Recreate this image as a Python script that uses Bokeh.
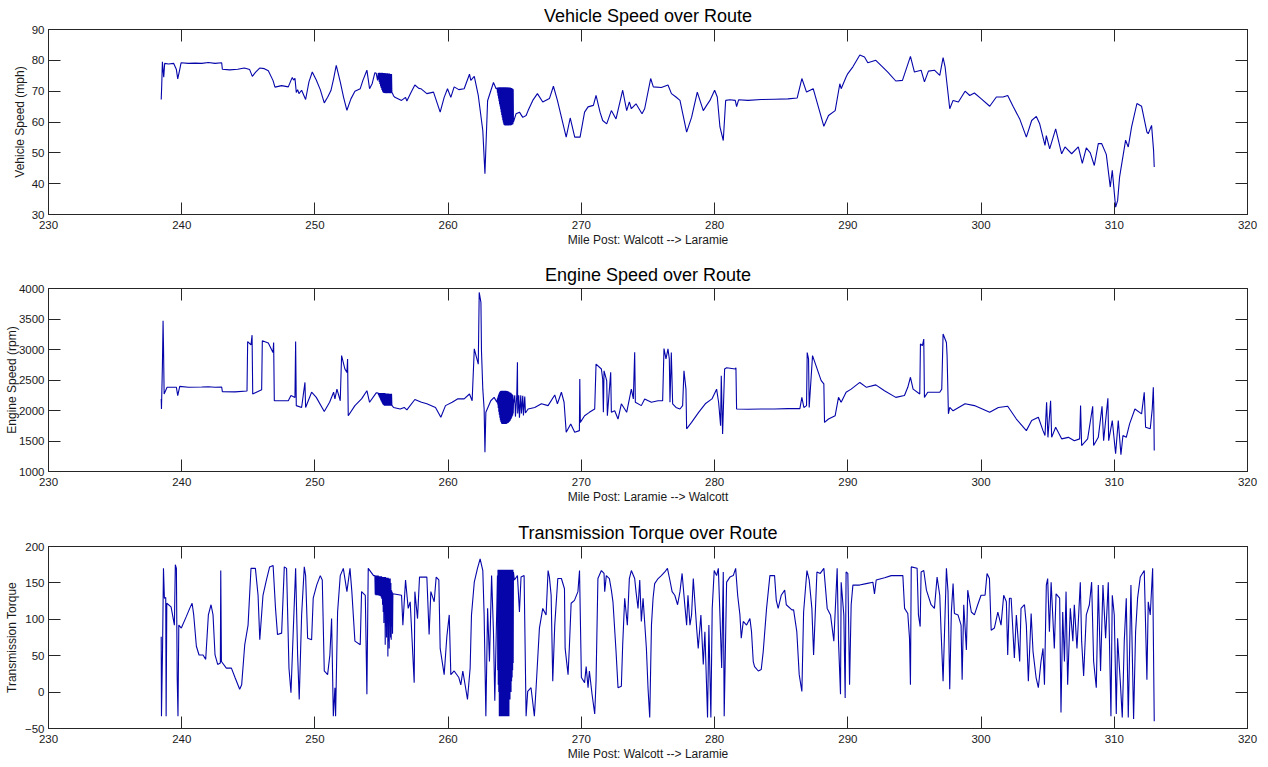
from bokeh.plotting import figure
from bokeh.models import Range1d, FixedTicker, LinearAxis
from bokeh.layouts import column
from bokeh.embed import file_html
from bokeh.resources import INLINE

# ---------------- data ----------------
x_ticks = [230, 240, 250, 260, 270, 280, 290, 300, 310, 320]

# ---- Vehicle speed (mph) ----
vs_a_mile = [238.46, 238.5, 238.55, 238.65, 238.72, 239.0, 239.4, 239.6, 239.7, 239.85, 239.95,
             240.5, 241.0, 241.5, 242.0, 242.5, 243.0, 243.05, 243.6, 244.2, 244.7, 245.1, 245.3,
             245.55, 245.85, 246.2, 246.5, 246.85, 247.0, 247.5, 248.0, 248.2, 248.3, 248.4, 248.5,
             248.6, 248.7, 248.8, 249.0, 249.3, 249.55, 249.8, 250.1, 250.4, 250.7, 250.95, 251.2,
             251.4, 251.6, 251.9, 252.15, 252.4, 252.7, 253.0, 253.4, 253.6, 253.9, 254.1, 254.3,
             254.5, 254.6, 254.7]
vs_a_mph = [67.3, 72.0, 79.5, 74.5, 79.0, 78.8, 79.0, 77.0, 74.0, 77.0, 79.2,
            79.0, 79.1, 79.0, 79.3, 79.0, 79.2, 77.1, 76.9, 77.1, 77.5, 77.0, 74.8,
            76.2, 77.5, 77.3, 76.6, 73.5, 71.3, 71.8, 71.4, 73.5, 74.4, 73.6, 74.2,
            69.6, 70.5, 69.2, 70.3, 67.3, 73.0, 76.2, 73.6, 70.5, 66.2, 68.0, 70.2,
            74.0, 78.4, 73.0, 68.0, 63.8, 67.5, 70.0, 70.8, 73.5, 76.8, 70.8, 72.5,
            76.0, 75.8, 73.5]
vs_blk1_mile = [254.75, 254.775, 254.8, 254.825, 254.85, 254.875, 254.9, 254.925, 254.95, 254.975,
                255.0, 255.025, 255.05, 255.075, 255.1, 255.125, 255.15, 255.175, 255.2, 255.225,
                255.25, 255.275, 255.3, 255.325, 255.35, 255.375, 255.4, 255.425, 255.45, 255.475,
                255.5, 255.525, 255.55, 255.575, 255.6, 255.625, 255.65, 255.675, 255.7, 255.725,
                255.75, 255.775, 255.8]
vs_blk1_mph = [75.9, 73.8, 76.0, 73.0, 76.0, 72.3, 75.9, 71.6, 76.0, 71.0,
               75.9, 70.4, 76.0, 69.9, 75.9, 69.6, 75.9, 69.4, 75.8, 69.4,
               75.9, 69.3, 75.8, 69.4, 75.8, 69.3, 75.7, 69.4, 75.8, 69.3,
               75.7, 69.4, 75.7, 69.3, 75.7, 69.4, 75.6, 69.3, 75.6, 69.4,
               75.6, 69.3, 69.5]
vs_b_mile = [255.9, 256.0, 256.5, 256.8, 256.9, 257.2, 257.5, 257.8, 257.95, 258.4, 258.9, 259.4,
             259.7, 259.95, 260.2, 260.45, 260.8, 261.2, 261.6, 261.7, 261.96, 262.26, 262.6,
             262.76, 262.96, 263.4, 263.6]
vs_b_mph = [68.5, 68.0, 67.0, 68.0, 66.8, 69.5, 72.0, 70.9, 70.8, 69.2, 69.7, 63.2,
            68.0, 70.8, 68.0, 71.4, 70.5, 70.8, 75.5, 73.5, 74.8, 68.6, 57.2,
            43.2, 66.9, 72.8, 70.8]
vs_blk2_mile = [263.68, 263.70, 263.72, 263.74, 263.76, 263.78, 263.80, 263.82, 263.84, 263.86,
                263.88, 263.90, 263.92, 263.94, 263.96, 263.98, 264.00, 264.02, 264.04, 264.06,
                264.08, 264.10, 264.12, 264.14, 264.16, 264.18, 264.20, 264.22, 264.24, 264.26,
                264.28, 264.30, 264.32, 264.34, 264.36, 264.38, 264.40, 264.42, 264.44, 264.46,
                264.48, 264.50, 264.52, 264.54, 264.56, 264.58, 264.60, 264.62, 264.64, 264.66,
                264.68, 264.70, 264.72, 264.74, 264.76, 264.78, 264.80, 264.82, 264.84, 264.86,
                264.88, 264.90]
vs_blk2_mph = [71.0, 69.5, 71.2, 68.5, 71.2, 67.6, 71.3, 66.7, 71.3, 65.8,
               71.3, 65.0, 71.3, 64.1, 71.2, 63.2, 71.3, 62.3, 71.3, 61.5,
               71.2, 60.6, 71.3, 59.8, 71.2, 59.2, 71.3, 59.0, 71.2, 58.9,
               71.3, 59.0, 71.2, 58.9, 71.3, 59.0, 71.2, 58.9, 71.2, 59.0,
               71.3, 58.9, 71.2, 59.0, 71.2, 58.9, 71.1, 59.0, 71.2, 59.0,
               71.1, 58.9, 71.0, 59.0, 71.0, 59.1, 70.9, 59.2, 70.8, 59.3,
               70.6, 60.0]
vs_c_mile = [265.1, 265.35, 265.6, 265.85, 266.0, 266.35, 266.7, 267.1, 267.6, 267.9, 268.2,
             268.86, 269.16, 269.5, 269.9, 270.24, 270.5, 270.9, 271.1, 271.4, 271.6, 271.9,
             272.25, 272.6, 273.1, 273.4, 273.6, 273.75, 274.1, 274.55, 274.75, 275.2, 275.4,
             276.0, 276.5, 276.76, 277.1, 277.4, 277.9, 278.27, 278.7, 279.15, 279.4, 279.65,
             280.0, 280.2, 280.4, 280.65, 280.83, 281.15, 281.55, 281.65, 281.8, 282.5, 283.5,
             284.5, 285.5, 286.2, 286.55, 286.9, 287.4, 288.2, 288.55, 289.05, 289.4, 289.5,
             289.87, 290.0, 290.38, 290.9, 291.25, 291.5, 292.1, 292.6, 293.0, 293.6, 294.1,
             294.7, 295.0, 295.5, 295.75, 296.05, 296.5, 296.9, 297.15, 297.3, 297.65, 297.9,
             298.3, 298.8, 299.15, 299.5, 300.0, 300.65, 301.15, 301.65, 302.0, 302.4, 302.9,
             303.4, 303.8, 304.15, 304.4, 304.8, 304.9, 305.15, 305.6, 306.05, 306.3, 306.8,
             307.3, 307.6, 307.9, 308.2, 308.5, 308.8, 309.05, 309.4, 309.7, 309.85, 310.1,
             310.25, 310.4, 310.85, 311.05, 311.3, 311.7, 312.05, 312.45, 312.55, 312.8, 312.95,
             313.0]
vs_c_mph = [62.7, 63.2, 61.5, 62.1, 63.7, 67.0, 69.2, 66.5, 67.6, 71.6, 67.0,
            55.1, 61.3, 55.1, 55.1, 63.2, 64.9, 65.4, 68.6, 63.2, 60.5, 59.4,
            63.7, 61.0, 70.3, 63.7, 66.5, 64.3, 65.9, 62.7, 64.3, 74.1, 71.4,
            71.2, 72.0, 69.2, 68.1, 67.0, 56.7, 61.5, 69.7, 63.7, 65.4, 67.0,
            70.3, 68.1, 58.4, 54.0, 67.0, 67.2, 67.0, 65.0, 67.2, 67.0, 67.3,
            67.4, 67.5, 67.8, 74.1, 69.7, 70.8, 58.6, 62.1, 63.7, 72.4, 70.8,
            74.6, 75.7, 77.9, 81.7, 81.1, 79.2, 80.0, 77.9, 76.2, 73.3, 73.5,
            81.3, 76.2, 76.8, 73.0, 76.5, 76.8, 75.1, 80.9, 77.9, 64.3, 67.0,
            66.5, 70.0, 68.6, 69.4, 67.6, 65.1, 68.1, 68.1, 68.6, 65.1, 61.0,
            55.1, 60.5, 61.8, 59.4, 52.4, 55.6, 51.3, 57.8, 49.7, 51.9, 49.7,
            51.9, 46.6, 51.6, 50.0, 45.9, 53.0, 53.0, 49.5, 38.9, 44.3, 32.4,
            34.5, 42.2, 54.1, 51.9, 58.4, 66.0, 65.1, 56.7, 56.2, 58.9, 50.8,
            45.4]

# ---- Engine speed (rpm) ----
es_a_mile = [238.46, 238.48, 238.55, 238.6, 238.63, 238.68, 238.9, 239.6, 239.7, 239.85, 240.5,
             241.5, 242.0, 242.5, 243.0, 243.05, 244.0, 244.9, 244.95, 245.2, 245.28, 245.33,
             246.0, 246.05, 246.5, 246.85, 246.9, 246.95, 247.5, 248.0, 248.2, 248.5, 248.55,
             248.6, 249.0, 249.25, 249.3, 249.75, 250.1, 250.7, 251.1, 251.4, 251.5, 251.65,
             251.9, 252.0, 252.25, 252.4, 252.45, 252.5, 253.0, 253.5, 253.9, 254.1, 254.6]
es_a_rpm = [2190, 2025, 2735, 3470, 3090, 2270, 2380, 2380, 2245, 2395, 2380,
            2385, 2390, 2380, 2385, 2310, 2305, 2320, 3130, 3075, 3235, 2270,
            2340, 3145, 3105, 2950, 3115, 2160, 2160, 2160, 2245, 2215, 3130,
            2080, 2050, 2460, 2050, 2300, 2215, 1985, 2135, 2300, 2190, 2350,
            2160, 2900, 2680, 2625, 2845, 1915, 2080, 2190, 2325, 2135, 2290]
es_blk1_mile = vs_blk1_mile
es_blk1_rpm = [2285, 2250, 2285, 2225, 2285, 2200, 2285, 2175, 2285, 2150,
               2285, 2130, 2285, 2110, 2285, 2095, 2285, 2085, 2285, 2080,
               2285, 2080, 2280, 2080, 2280, 2080, 2280, 2080, 2280, 2080,
               2280, 2080, 2275, 2080, 2275, 2080, 2275, 2080, 2275, 2080,
               2275, 2080, 2080]
es_b_mile = [255.9, 256.4, 256.7, 256.9, 257.5, 258.0, 258.4, 259.05, 259.45, 259.8, 260.3,
             260.7, 261.2, 261.6, 261.8, 261.96, 262.26, 262.33, 262.46, 262.5, 262.6, 262.7,
             262.76, 262.83, 263.2, 263.45, 263.66]
es_b_rpm = [2050, 2025, 2050, 2010, 2180, 2135, 2110, 2050, 1890, 2080, 2135,
            2190, 2190, 2270, 2160, 3010, 2760, 3935, 3770, 2980, 2350, 2025,
            1315, 1970, 2160, 2215, 2135]
es_blk2_mile = [263.70, 263.72, 263.74, 263.76, 263.78, 263.80, 263.82, 263.84, 263.86, 263.88,
                263.90, 263.92, 263.94, 263.96, 263.98, 264.00, 264.02, 264.04, 264.06, 264.08,
                264.10, 264.12, 264.14, 264.16, 264.18, 264.20, 264.22, 264.24, 264.26, 264.28,
                264.30, 264.32, 264.34, 264.36, 264.38, 264.40, 264.42, 264.44, 264.46, 264.48,
                264.50, 264.52, 264.54, 264.56, 264.58, 264.60, 264.62, 264.64, 264.66, 264.68,
                264.70, 264.72, 264.74, 264.76, 264.78, 264.80, 264.82, 264.84, 264.86, 264.88,
                264.90]
es_blk2_rpm = [2200, 2100, 2230, 2040, 2260, 1980, 2280, 1930, 2300, 1880,
               2310, 1840, 2320, 1810, 2325, 1790, 2325, 1780, 2320, 1780,
               2325, 1780, 2320, 1780, 2325, 1780, 2320, 1785, 2325, 1780,
               2320, 1785, 2325, 1780, 2320, 1785, 2320, 1790, 2315, 1795,
               2310, 1800, 2310, 1810, 2300, 1820, 2300, 1830, 2290, 1850,
               2290, 1860, 2280, 1880, 2270, 1900, 2260, 1920, 2250, 1950,
               2100]
es_c_mile = [265.0, 265.05, 265.15, 265.2, 265.22, 265.3, 265.35, 265.45, 265.5, 265.6, 265.65,
             265.75, 265.8, 266.0, 266.5, 267.0, 267.5, 268.0, 268.2, 268.5, 268.7, 268.86,
             269.2, 269.5, 269.85, 269.88, 269.92, 270.24, 270.6, 271.0, 271.1, 271.5, 271.6,
             271.65, 271.7, 271.9, 271.95, 272.2, 272.25, 272.5, 272.75, 273.0, 273.4, 273.75,
             273.9, 274.0, 274.05, 274.5, 274.75, 275.25, 275.75, 276.1, 276.2, 276.35, 276.5,
             276.6, 276.65, 276.75, 276.85, 277.1, 277.4, 277.6, 277.7, 277.85, 277.9, 278.27,
             278.8, 279.3, 279.8, 280.15, 280.3, 280.45, 280.5, 280.6, 280.75, 280.9, 281.55,
             281.6, 281.65, 282.5, 283.5, 284.5, 285.5, 286.4, 286.55, 286.7, 286.9, 286.95,
             287.05, 287.1, 287.35, 288.0, 288.2, 288.25, 288.55, 289.05, 289.3, 289.5, 289.87,
             290.25, 290.9, 291.4, 292.1, 292.75, 293.6, 294.25, 294.5, 294.7, 294.9, 295.4,
             295.45, 295.6, 295.7, 295.75, 296.0, 296.9, 297.05, 297.15, 297.4, 297.45, 297.55,
             297.65, 297.9, 298.8, 299.5, 300.65, 301.3, 302.0, 302.65, 303.4, 303.8, 304.3,
             304.65, 304.8, 304.92, 305.02, 305.22, 305.3, 305.6, 306.05, 306.55, 307.0, 307.4,
             307.47, 307.55, 308.0, 308.38, 308.45, 308.8, 309.08, 309.2, 309.52, 309.58, 309.85,
             310.1, 310.3, 310.5, 310.65, 310.9, 311.15, 311.55, 312.05, 312.25, 312.35, 312.7,
             312.85, 312.93, 312.97, 313.0]
es_c_rpm = [2250, 1900, 2250, 2790, 1950, 2250, 1880, 2250, 1950, 2240, 1920,
            2230, 1960, 2025, 2050, 2110, 2080, 2255, 2110, 2300, 2135, 1645,
            1780, 1645, 1670, 2515, 1805, 1915, 1970, 2025, 2760, 2680, 2515,
            1970, 2650, 2490, 1915, 2625, 1970, 1995, 1860, 2110, 1970, 2350,
            2190, 2955, 2135, 2080, 2190, 2135, 2160, 2160, 3015, 2845, 3010,
            2845, 2135, 2950, 2110, 2050, 2025, 2080, 2650, 2350, 1700, 1805,
            1970, 2110, 2190, 2350, 2135, 1750, 2570, 1615, 2680, 2700, 2680,
            2700, 2025, 2020, 2025, 2025, 2030, 2030, 2215, 2050, 2080, 2950,
            2845, 2050, 2900, 2490, 2435, 1805, 1860, 1915, 2215, 2135, 2300,
            2350, 2460, 2380, 2420, 2325, 2215, 2245, 2380, 2545, 2350, 2270,
            3090, 3065, 3170, 2215, 2300, 2300, 2350, 3255, 3115, 2900, 1945,
            2050, 1995, 2110, 2080, 1970, 2050, 2070, 1860, 1670, 1835, 1890,
            1670, 1590, 2135, 1560, 2160, 1560, 1725, 1535, 1560, 1505, 1535,
            2080, 1425, 1535, 2070, 1425, 1560, 2070, 1505, 2200, 1505, 1835,
            1290, 1835, 1275, 1590, 1560, 1780, 2025, 1945, 2300, 1725, 1700,
            2025, 2380, 2000, 1345]

# ---- Transmission torque ----
tq_a_mile = [238.46, 238.48, 238.56, 238.63, 238.7, 238.8, 238.83, 238.88, 239.2, 239.45, 239.52,
             239.6, 239.66, 239.72, 239.78, 239.97, 240.35, 240.6, 240.78, 240.9, 241.1, 241.3,
             241.6, 241.8, 242.0, 242.2, 242.35, 242.5, 242.7, 242.9, 242.93, 242.98, 243.35,
             243.73, 244.0, 244.35, 244.5, 244.73, 244.98, 245.2, 245.53, 245.73, 245.86, 246.1,
             246.36, 246.6, 246.86, 247.04, 247.19, 247.5, 247.7, 247.87, 248.05, 248.2, 248.37,
             248.55, 248.7, 248.82, 249.0, 249.2, 249.3, 249.45, 249.75, 249.87, 250.13, 250.4,
             250.55, 250.7, 250.95, 251.12, 251.25, 251.38, 251.5, 251.55, 251.7, 251.9, 252.13,
             252.4, 252.63, 252.77, 253.0, 253.4, 253.5, 253.78, 253.9, 254.0, 254.4]
tq_a_val = [76, -33, 58, 170, 129, 130, -33, 122, 117, 92, 175,
            170, 20, -33, 92, 88, 104, 115, 122, 106, 63, 51,
            51, 45, 106, 120, 106, 51, 38, 40, 167, 42, 33,
            33, 20, 4, 10, 65, 92, 170, 170, 133, 72, 133,
            154, 172, 174, 115, 79, 81, 172, 170, 33, -1, 83,
            170, 51, -10, 106, 172, 160, 74, 72, 129, 147, 160,
            154, 29, 24, 51, 101, -33, 6, -33, 110, 160, 170,
            138, 170, 138, 70, 65, 138, 133, -3, 170, 160]
tq_blk1_mile = [254.5, 254.525, 254.55, 254.575, 254.6, 254.625, 254.65, 254.675, 254.7, 254.725,
                254.75, 254.775, 254.8, 254.825, 254.85, 254.875, 254.9, 254.925, 254.95, 254.975,
                255.0, 255.025, 255.05, 255.075, 255.1, 255.125, 255.15, 255.175, 255.2, 255.225,
                255.25, 255.275, 255.3, 255.325, 255.35, 255.375, 255.4, 255.425, 255.45, 255.475,
                255.5, 255.525, 255.55, 255.575, 255.6, 255.625, 255.65, 255.675, 255.7, 255.725,
                255.75, 255.775, 255.8, 255.825, 255.85]
tq_blk1_val = [160, 134, 160, 133, 160, 133, 160, 133, 160, 133,
               160, 133, 159, 132, 159, 133, 159, 132, 159, 130,
               159, 128, 158, 120, 158, 110, 158, 95, 158, 130,
               158, 65, 158, 90, 157, 75, 157, 120, 157, 49,
               157, 70, 156, 60, 156, 100, 156, 75, 150, 72,
               140, 90, 138, 80, 135]
tq_b_mile = [256.5, 256.6, 256.8, 257.0, 257.15, 257.45, 257.5, 257.7, 257.85, 258.4, 258.57,
             258.7, 258.95, 259.1, 259.3, 259.4, 259.7, 259.9, 260.08, 260.2, 260.45, 260.8,
             260.95, 261.1, 261.45, 261.65, 261.75, 261.96, 262.2, 262.4, 262.6, 262.7, 262.83,
             262.96, 263.1, 263.26, 263.4, 263.5, 263.66]
tq_b_val = [133, 92, 154, 115, 124, 13, 138, 101, 158, 158, 79,
            138, 124, 158, 154, 60, 24, 76, 106, 24, 29, 20,
            10, 29, -10, 33, 106, 151, 170, 183, 167, 106, -33,
            115, 42, 160, 83, -12, 124]
tq_blk2_mile = es_blk2_mile
tq_blk2_val = [160, 30, 168, 10, 168, 0, 168, -33, 168, 5,
               168, -33, 168, 0, 168, -33, 168, 0, 168, -33,
               168, 2, 168, -33, 168, 0, 168, -33, 168, 5,
               168, -33, 168, 0, 168, -33, 168, 3, 168, -33,
               168, 0, 168, -33, 168, 5, 168, -10, 168, 10,
               168, 0, 168, 15, 168, 20, 168, 30, 168, 40,
               165]
tq_c_mile = [264.97, 265.2, 265.35, 265.47, 265.7, 265.85, 265.97, 266.22, 266.47, 266.6, 266.85,
             267.1, 267.35, 267.5, 267.6, 267.73, 267.85, 268.0, 268.23, 268.5, 268.73, 268.78,
             269.0, 269.1, 269.23, 269.48, 269.74, 269.86, 270.0, 270.24, 270.36, 270.5, 270.6,
             270.8, 271.0, 271.1, 271.24, 271.5, 271.7, 271.75, 271.87, 272.1, 272.25, 272.37,
             272.6, 272.75, 273.0, 273.1, 273.25, 273.45, 273.6, 273.75, 274.0, 274.1, 274.25,
             274.38, 274.5, 274.63, 274.88, 275.0, 275.13, 275.26, 275.38, 275.5, 275.76, 276.0,
             276.26, 276.46, 276.64, 276.81, 277.01, 277.22, 277.4, 277.56, 277.76, 277.9, 278.0,
             278.15, 278.27, 278.4, 278.65, 278.77, 278.97, 279.15, 279.27, 279.47, 279.57, 279.72,
             279.82, 279.97, 280.15, 280.28, 280.4, 280.53, 280.65, 280.72, 280.9, 281.15, 281.4,
             281.58, 281.73, 281.9, 282.0, 282.15, 282.4, 282.65, 282.77, 282.9, 283.0, 283.28,
             283.5, 283.65, 283.9, 284.15, 284.5, 284.63, 284.77, 285.0, 285.26, 285.38, 285.8,
             285.93, 286.17, 286.35, 286.55, 286.68, 286.93, 287.1, 287.3, 287.43, 287.68, 287.93,
             288.2, 288.45, 288.7, 288.95, 289.2, 289.3, 289.45, 289.5, 289.7, 289.8, 289.87,
             290.0, 290.13, 290.25, 290.38, 290.88, 291.38, 291.88, 292.0, 292.13, 292.76, 293.26,
             294.13, 294.26, 294.5, 294.63, 294.7, 294.76, 295.2, 295.3, 295.43, 295.5, 295.7,
             295.9, 296.25, 296.5, 296.7, 296.9, 297.0, 297.15, 297.4, 297.52, 297.65, 297.77,
             297.9, 298.0, 298.27, 298.5, 298.58, 298.7, 298.9, 299.0, 299.27, 299.5, 299.75,
             300.0, 300.3, 300.45, 300.63, 300.76, 301.0, 301.26, 301.5, 301.7, 301.9, 302.0,
             302.13, 302.26, 302.5, 302.65, 302.9, 303.0, 303.26, 303.4, 303.55, 303.76, 303.9,
             304.13, 304.3, 304.5, 304.65, 304.76, 304.9, 305.0, 305.13, 305.26, 305.5, 305.63,
             305.9, 306.0, 306.13, 306.26, 306.38, 306.5, 306.7, 306.89, 307.0, 307.2, 307.45,
             307.55, 307.7, 307.9, 308.13, 308.3, 308.45, 308.65, 308.8, 308.97, 309.15, 309.35,
             309.55, 309.75, 309.85, 310.0, 310.15, 310.25, 310.45, 310.6, 310.75, 310.9, 311.05,
             311.25, 311.45, 311.6, 311.75, 311.95, 312.25, 312.45, 312.55, 312.7, 312.88, 313.0]
tq_c_val = [154, 160, 110, 158, 160, -33, 1, 6, -33, 6, 88,
            115, 106, 167, 158, 133, 15, 92, 156, 156, 142, 60,
            24, 63, 122, 126, 138, 167, 20, 13, 35, 6, 29,
            -3, -30, 15, 156, 167, 163, 138, 160, 156, 140, 124,
            56, 6, 8, 65, 129, 92, 156, 167, 156, 138, 115,
            154, 97, 129, 60, 6, -35, 92, 129, 149, 156, 160,
            165, 170, 154, 138, 133, 120, 138, 163, 120, 92, 133,
            92, 106, 156, 88, 60, 106, 38, 83, -35, 92, -35,
            115, 167, 160, 170, 106, 33, 165, -33, 151, 158, 160,
            170, 133, 106, 74, 97, 92, 101, 83, 42, 35, 29,
            31, 56, 115, 160, 160, 126, 115, 133, 140, 120, 113,
            113, 83, 24, 1, 110, 167, 154, 115, 51, 165, 163,
            170, 115, 106, 70, 170, 70, -3, 151, 106, -8, 165,
            163, 10, 120, 147, 147, 149, 151, 135, 154, 157, 160,
            160, 115, 108, 74, 10, 172, 170, 106, 90, 165, 167,
            140, 120, 115, 158, 133, 83, 15, 170, 138, 4, 110,
            149, 108, 106, 92, 17, 120, 58, 140, 110, 106, 120,
            133, 133, 163, 156, 85, 88, 110, 92, 133, 124, 51,
            129, 129, 47, 106, 42, 115, 120, 92, 15, 108, 56,
            20, 6, 42, 60, 10, 147, 156, 83, 151, 60, 135,
            129, -28, 110, 42, 138, 10, 115, 70, 120, 60, 151,
            70, 22, 106, 120, 151, 42, 6, 147, 29, 147, 74,
            151, -33, 133, 106, -30, 74, 15, -35, 70, 129, -35,
            147, -37, 83, 129, 158, 167, 17, 124, 106, 170, -40]

vs_mile = vs_a_mile + vs_blk1_mile + vs_b_mile + vs_blk2_mile + vs_c_mile
vs_mph = vs_a_mph + vs_blk1_mph + vs_b_mph + vs_blk2_mph + vs_c_mph
es_mile = es_a_mile + es_blk1_mile + es_b_mile + es_blk2_mile + es_c_mile
es_rpm = es_a_rpm + es_blk1_rpm + es_b_rpm + es_blk2_rpm + es_c_rpm
tq_mile = tq_a_mile + tq_blk1_mile + tq_b_mile + tq_blk2_mile + tq_c_mile
tq_val = tq_a_val + tq_blk1_val + tq_b_val + tq_blk2_val + tq_c_val

for name, a, b in [("vs", vs_mile, vs_mph), ("es", es_mile, es_rpm), ("tq", tq_mile, tq_val)]:
    if len(a) != len(b):
        raise ValueError("%s length mismatch %d vs %d" % (name, len(a), len(b)))

# ---------------- styling ----------------
FONT = "Liberation Sans"
LINE_COLOR = "#0505aa"
AX_COLOR = "#262626"
W = 1260


def make_panel(title, xs, ys, y_lo, y_hi, y_ticks, y_label, x_label, height,
               top, bottom, ylab_standoff):
    p = figure(width=W, height=height, x_range=Range1d(230, 320), y_range=Range1d(y_lo, y_hi),
               output_backend="svg", toolbar_location=None,
               x_axis_location=None, y_axis_location=None,
               min_border_left=48, min_border_right=13,
               min_border_top=top, min_border_bottom=bottom)
    p.grid.visible = False
    p.outline_line_color = AX_COLOR
    p.outline_line_width = 1
    p.background_fill_color = "white"
    p.border_fill_color = "white"

    p.title.text = title
    p.title.align = "center"
    p.title.text_font = FONT
    p.title.text_font_size = "18px"
    p.title.text_font_style = "normal"
    p.title.text_color = "black"
    p.title.standoff = 7

    def style(ax, labels):
        ax.major_tick_in = 12
        ax.major_tick_out = 0
        ax.minor_tick_in = 0
        ax.minor_tick_out = 0
        ax.axis_line_color = AX_COLOR
        ax.major_tick_line_color = AX_COLOR
        ax.major_label_text_font = FONT
        if labels:
            ax.major_label_text_font_size = "11.5px"
            ax.major_label_text_color = "#1a1a1a"
        else:
            ax.major_label_text_font_size = "1px"
            ax.major_label_text_color = None
            ax.major_label_standoff = 0

    xt = FixedTicker(ticks=x_ticks)
    yt = FixedTicker(ticks=y_ticks)

    bx = LinearAxis(ticker=xt, axis_label=x_label)
    style(bx, True)
    bx.major_label_standoff = 6
    bx.axis_label_standoff = 1
    bx.axis_label_text_font = FONT
    bx.axis_label_text_font_size = "12px"
    bx.axis_label_text_font_style = "normal"
    bx.axis_label_text_color = "#1a1a1a"
    p.add_layout(bx, "below")

    tx = LinearAxis(ticker=xt)
    style(tx, False)
    p.add_layout(tx, "above")

    ly = LinearAxis(ticker=yt, axis_label=y_label)
    style(ly, True)
    ly.major_label_standoff = 4
    ly.axis_label_standoff = ylab_standoff
    ly.axis_label_text_font = FONT
    ly.axis_label_text_font_size = "12px"
    ly.axis_label_text_font_style = "normal"
    ly.axis_label_text_color = "#1a1a1a"
    p.add_layout(ly, "left")

    ry = LinearAxis(ticker=yt)
    style(ry, False)
    p.add_layout(ry, "right")

    p.line(xs, ys, line_color=LINE_COLOR, line_width=1.1)
    return p


p1 = make_panel("Vehicle Speed over Route", vs_mile, vs_mph, 30, 90,
                [30, 40, 50, 60, 70, 80, 90], "Vehicle Speed (mph)",
                "Mile Post: Walcott --> Laramie", 250, 29, 36, 2)
p2 = make_panel("Engine Speed over Route", es_mile, es_rpm, 1000, 4000,
                [1000, 1500, 2000, 2500, 3000, 3500, 4000], "Engine Speed (rpm)",
                "Mile Post: Laramie --> Walcott", 258, 38, 37, -3)
p3 = make_panel("Transmission Torque over Route", tq_mile, tq_val, -50, 200,
                [-50, 0, 50, 100, 150, 200], "Transmission Torque",
                "Mile Post: Walcott --> Laramie", 255, 38, 34, 3)

layout = column(p1, p2, p3, spacing=0)
open("out.html", "w").write(file_html(layout, INLINE))
